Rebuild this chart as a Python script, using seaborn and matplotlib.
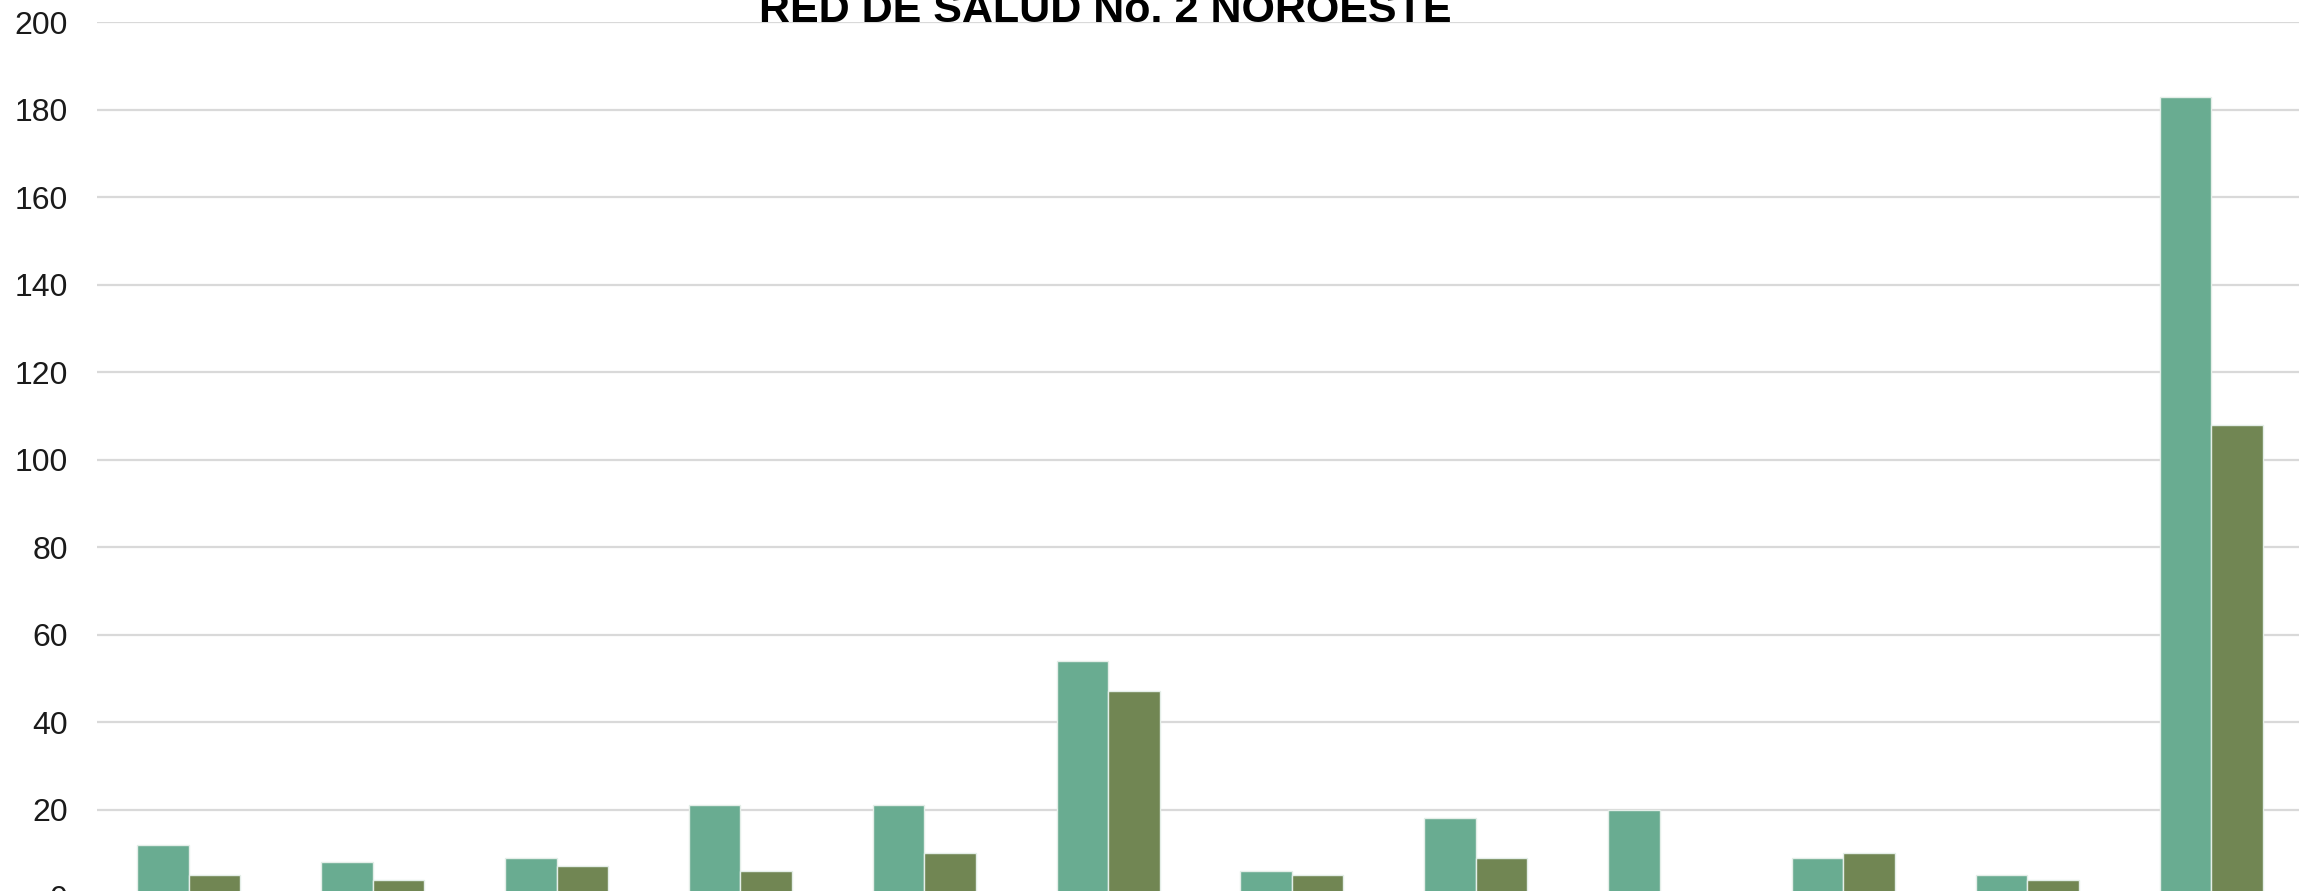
import matplotlib
matplotlib.use("Agg")
import matplotlib.pyplot as plt
import pandas as pd
import seaborn as sns

# Categories (labels sit below the visible frame) and the two series
categorias = ["1", "2", "3", "4", "5", "6", "7", "8", "9", "10", "11", "12"]
series = ["Serie A", "Serie B"]
valores_a = [12, 8, 9, 21, 21, 54, 6, 18, 20, 9, 5, 183]
valores_b = [5, 4, 7, 6, 10, 47, 5, 9, 0, 10, 4, 108]
marcas_y = [0, 20, 40, 60, 80, 100, 120, 140, 160, 180, 200]
titulo = "RED DE SALUD No. 2 NOROESTE"

colores = ["#69AC91", "#718653"]

df = pd.DataFrame({
    "categoria": categorias * 2,
    "serie": [series[0]] * len(categorias) + [series[1]] * len(categorias),
    "valor": valores_a + valores_b,
})

sns.set_theme(style="white")
plt.rcParams["font.family"] = ["Liberation Sans", "DejaVu Sans"]

W, H = 2299, 891
fig = plt.figure(figsize=(W / 100, H / 100), dpi=100)
ax = fig.add_axes([97 / W, (H - 897) / H, 2206 / W, (897 - 22.3) / H])

sns.barplot(
    data=df, x="categoria", y="valor", hue="serie", order=categorias,
    hue_order=series, palette=colores, width=0.56, gap=0,
    edgecolor="#E4EEE8", linewidth=1.0, saturation=1, legend=False, ax=ax,
)

ax.set_ylim(0, 200)
ax.set_xlim(-0.5, len(categorias) - 0.5)
ax.set_yticks(marcas_y)
ax.set_yticklabels([str(v) for v in marcas_y])
ax.set_axisbelow(True)
ax.yaxis.grid(True, color="#D9D9D9", linewidth=1.6)
ax.xaxis.grid(False)
for s in ax.spines.values():
    s.set_visible(False)
ax.tick_params(axis="y", length=0, pad=21, labelsize=23, labelcolor="#1A1A1A")
ax.tick_params(axis="x", length=0, labelbottom=False)
ax.set_xlabel("")
ax.set_ylabel("")

fig.text(1105 / W, 1 - 22.5 / H, titulo, ha="center", va="baseline",
         fontsize=31, fontweight="bold", color="black")

fig.savefig("out.png", dpi=100)
